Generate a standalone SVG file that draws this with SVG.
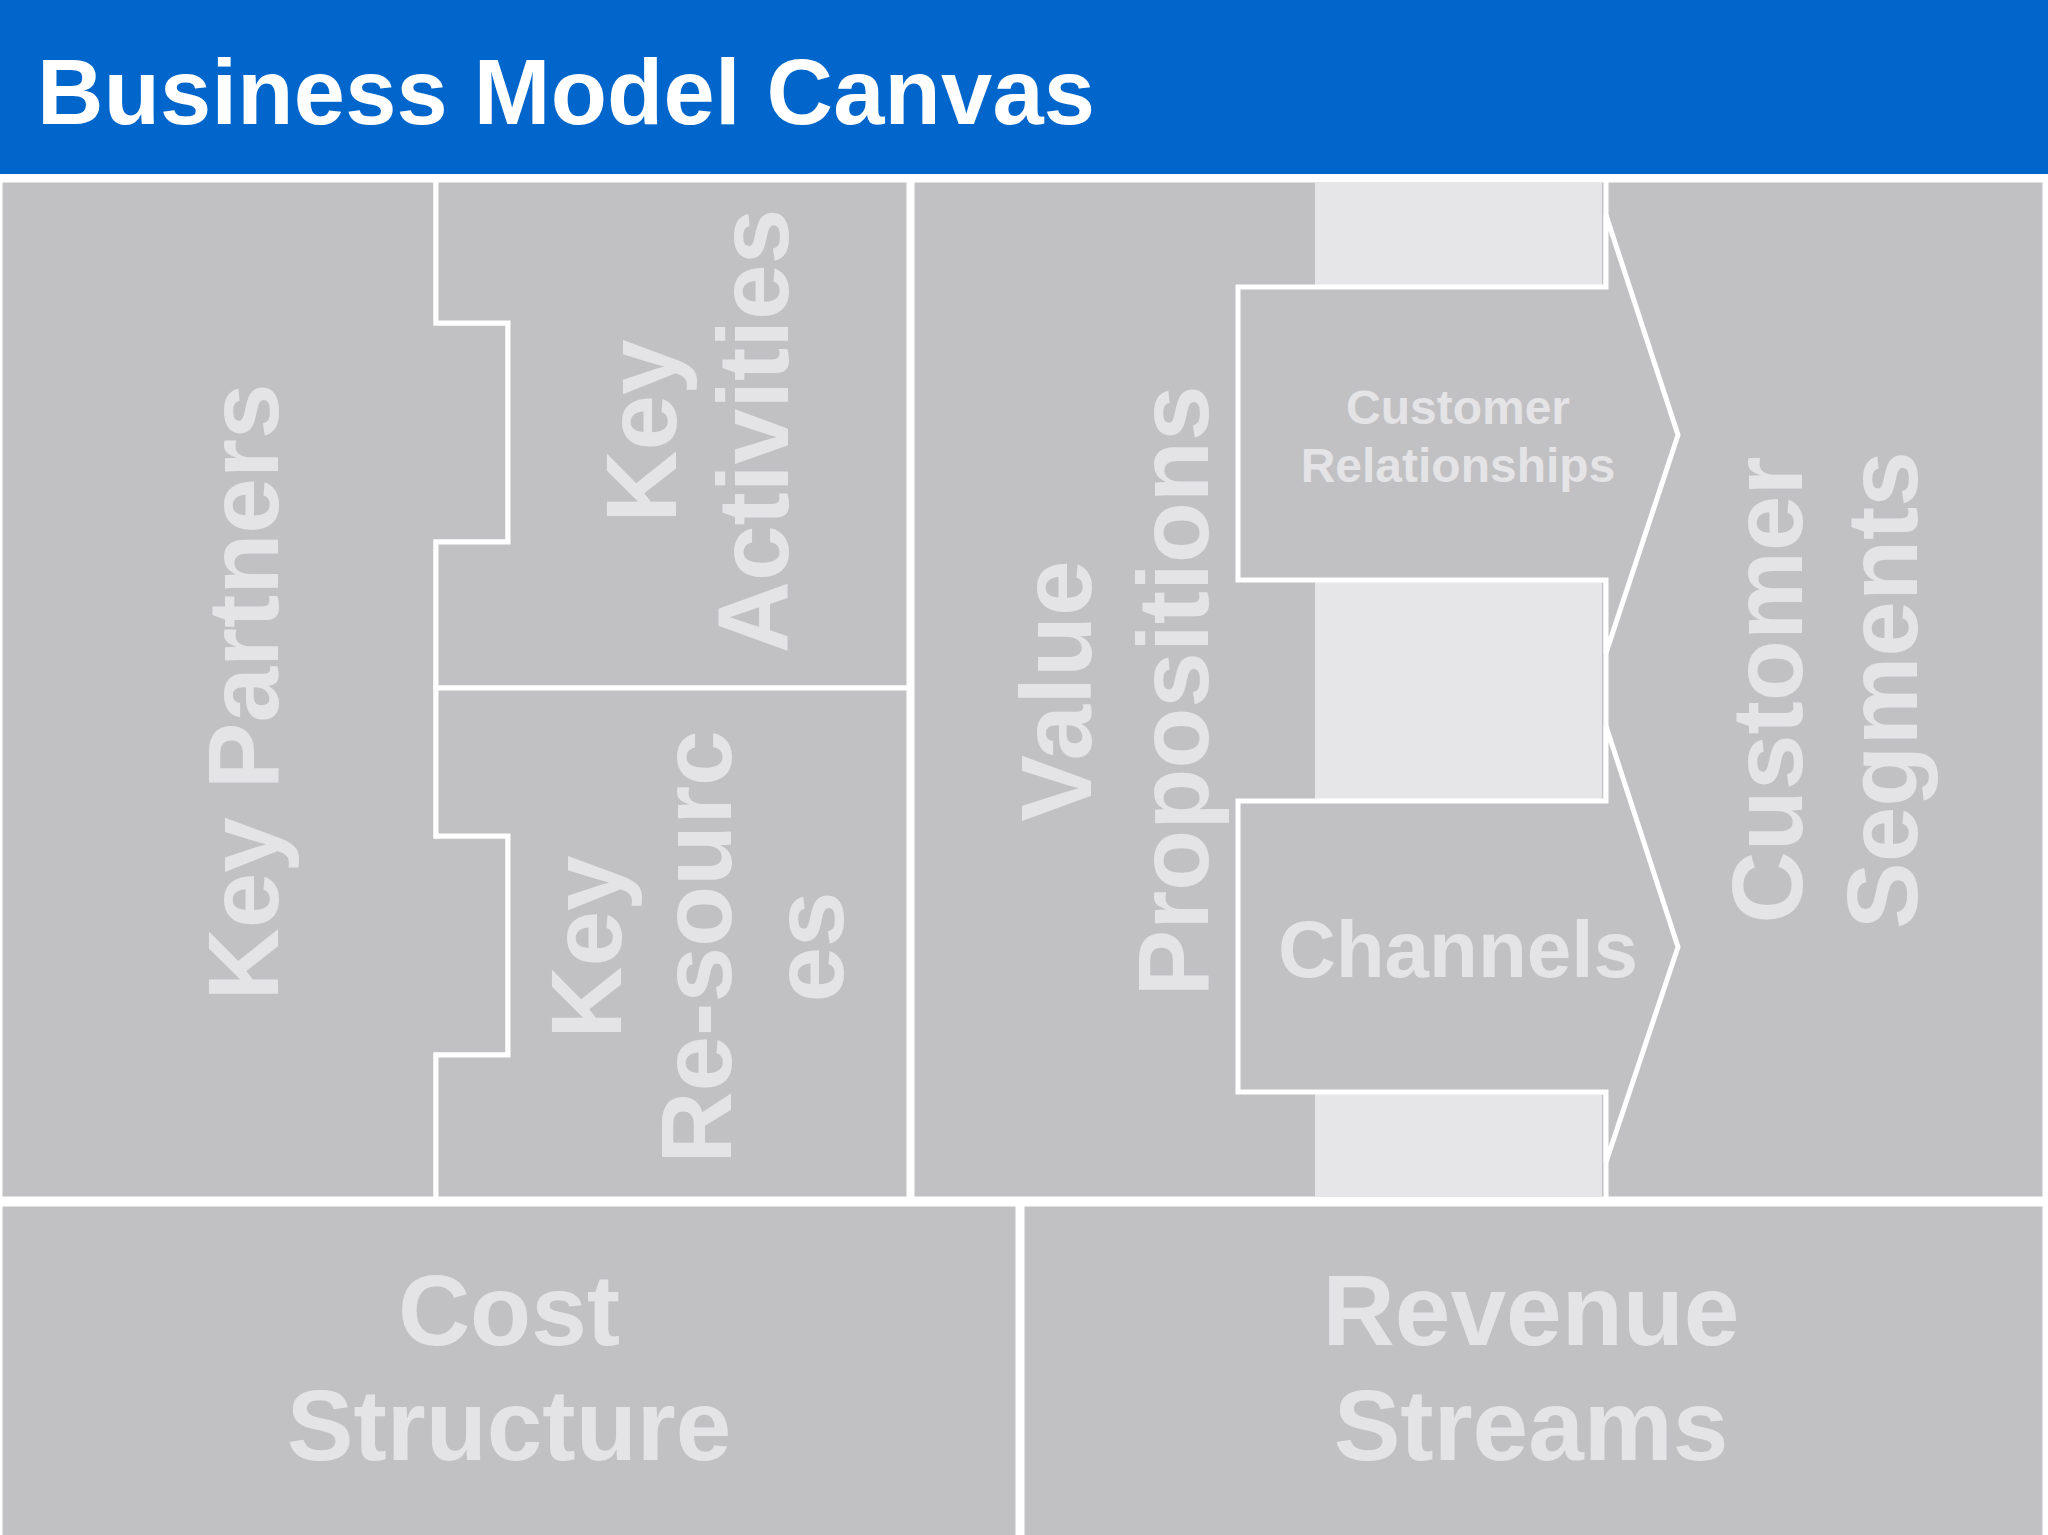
<svg xmlns="http://www.w3.org/2000/svg" width="2048" height="1535" viewBox="0 0 2048 1535">
<style>
.box{fill:#c1c0c3;stroke:#fff;stroke-width:5}
.lt{fill:#e6e5e8}
.t{font-family:"Liberation Sans",Arial,sans-serif;font-weight:bold;fill:#e4e3e6;text-anchor:middle}
</style>
<rect width="2048" height="1535" fill="#fff"/>
<g id="header"><rect x="0" y="0" width="2048" height="174" fill="#0066cc"/>
<text x="37" y="124" font-family="Liberation Sans,Arial,sans-serif" font-weight="bold" font-size="92" fill="#fff" textLength="1058">Business Model Canvas</text></g>
<g id="key-partners"><path class="box" d="M0,180H436V323H508V542H436V836H508V1055H436V1199H0Z"/>
<text class="t" font-size="100" transform="translate(278,692) rotate(-90)">Key Partners</text></g>
<g id="key-activities"><path class="box" d="M436,180H909V688H436V542H508V323H436Z"/>
<text class="t" font-size="100" transform="translate(676,431) rotate(-90)"><tspan x="0" y="0">Key</tspan><tspan x="0" y="112">Activities</tspan></text></g>
<g id="key-resources"><path class="box" d="M436,688H909V1199H436V1055H508V836H436Z"/>
<text class="t" font-size="100" transform="translate(621,947) rotate(-90)"><tspan x="0" y="0">Key</tspan><tspan x="0" y="110">Re-sourc</tspan><tspan x="0" y="222">es</tspan></text></g>
<g id="value-propositions"><rect class="box" x="912" y="180" width="1133" height="1019"/>
<rect class="lt" x="1315" y="182" width="287" height="1015"/>
<rect class="box" x="1606" y="180" width="439" height="1019"/>
<text class="t" font-size="100" transform="translate(1091,691) rotate(-90)"><tspan x="0" y="0">Value</tspan><tspan x="0" y="117">Propositions</tspan></text></g>
<g id="customer-segments"><text class="t" font-size="100" transform="translate(1802,690) rotate(-90)"><tspan x="0" y="0">Customer</tspan><tspan x="0" y="115">Segments</tspan></text></g>
<g id="customer-relationships"><path class="box" d="M1238,287H1606V215L1678,435L1606,653V580H1238Z"/>
<text class="t" font-size="48"><tspan x="1458" y="424">Customer</tspan><tspan x="1458" y="482">Relationships</tspan></text></g>
<g id="channels"><path class="box" d="M1238,801H1606V726L1678,947L1606,1162V1092H1238Z"/>
<text class="t" font-size="80" x="1458" y="977">Channels</text></g>
<g id="cost-structure"><rect class="box" x="0" y="1204" width="1018" height="340"/>
<text class="t" font-size="100"><tspan x="509" y="1345">Cost</tspan><tspan x="509" y="1460">Structure</tspan></text></g>
<g id="revenue-streams"><rect class="box" x="1022" y="1204" width="1023" height="340"/>
<text class="t" font-size="100"><tspan x="1531" y="1345">Revenue</tspan><tspan x="1531" y="1460">Streams</tspan></text></g>
<g id="connectors"/>
</svg>
